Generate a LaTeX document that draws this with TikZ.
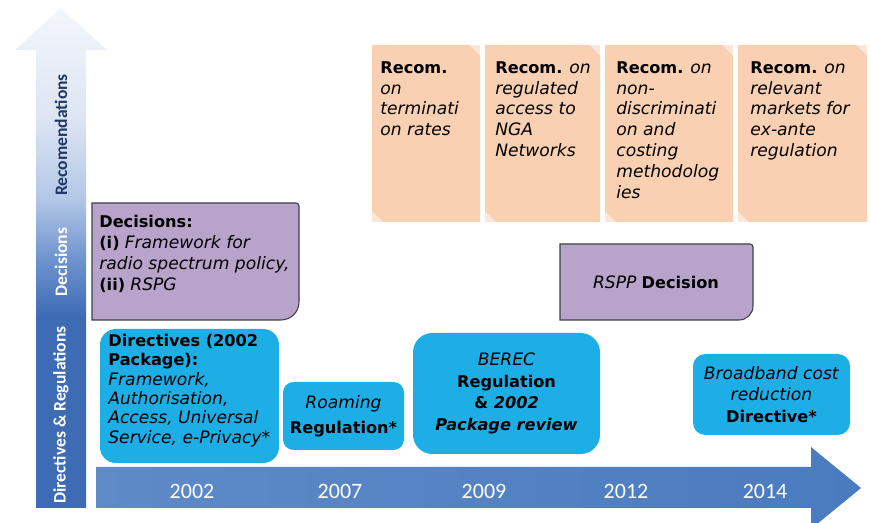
\documentclass[tikz,border=0pt]{standalone}
\usepackage{fontspec}
\setmainfont{DejaVu Sans}[ItalicFeatures={Scale=1.06}]
\newfontfamily\calibri{Carlito}
\usetikzlibrary{positioning}

\definecolor{recomfill}{HTML}{F9D1B2}
\definecolor{decfill}{HTML}{B8A3CB}
\definecolor{decline}{HTML}{3F3F46}
\definecolor{regfill}{HTML}{1EAEE6}
\definecolor{timeleft}{HTML}{5E8AC7}
\definecolor{timeright}{HTML}{4A7BBF}
\definecolor{navy}{HTML}{1F3864}
\definecolor{axisdark}{HTML}{3D6BB4}
\definecolor{axismid}{HTML}{7094CF}
\definecolor{axislight}{HTML}{B3C7E7}
\definecolor{axispale}{HTML}{DDE5F3}
\definecolor{axistop}{HTML}{F3F6FB}

% fade of the rising arrow, dark at the foot and pale at the head
\pgfdeclareverticalshading{risefade}{100bp}{color(0bp)=(axisdark); color(25bp)=(axisdark);
  color(44bp)=(axisdark); color(50bp)=(axismid); color(56bp)=(axislight);
  color(64bp)=(axispale); color(75bp)=(axistop); color(100bp)=(axistop)}

\tikzset{
  boxtext/.style={font=\fontsize{9.2}{11.9}\selectfont, text=black, inner sep=0pt, align=left},
  regbox/.style={fill=regfill, rounded corners=7pt, inner sep=0pt, align=center,
    font=\fontsize{9.2}{12.2}\selectfont},
  yearlabel/.style={text=white, font=\calibri\fontsize{12.5}{14}\selectfont},
  axislabel/.style={rotate=90, text=white, font=\calibri\bfseries\fontsize{10}{12}\selectfont},
  decpanel/.style={fill=decfill, draw=decline, line width=0.6pt}
}

\begin{document}
\begin{tikzpicture}[x=0.02cm,y=0.02cm]
\def\px{0.02cm}
\useasboundingbox (0,0) rectangle (871,523);

% Rising arrow with the three levels
\shade[shading=risefade] (36,15) -- (36,473) -- (15,473) -- (61,515) -- (107,473)
  -- (86,473) -- (86,15) -- cycle;
\node[axislabel, text=navy] (lab-rec) at (61,388) {Recomendations};
\node[axislabel] (lab-dec) at (61,261) {Decisions};
\node[axislabel] (lab-dir) at (61,108) {Directives \& Regulations};

% Time line
\shade[left color=timeleft, right color=timeright] (96,15) -- (96,56) -- (811,56)
  -- (811,76) -- (861,35) -- (811,-6) -- (811,15) -- cycle;
\foreach \yr/\x in {2002/192, 2007/340, 2009/484, 2012/626, 2014/765} {
  \node[yearlabel] (y\yr) at (\x,32) {\yr};
}

% Recommendation sheets, snipped corners over a lighter sheet
\foreach \xa/\xb in {372/480, 485/600, 605/733, 738/867} {
  \fill[recomfill!55!white] (\xa,301) rectangle (\xb,478);
  \fill[recomfill] (\xa,312) -- (\xa,478) -- (\xb-11,478) -- (\xb,467) -- (\xb,301)
    -- (\xa+11,301) -- cycle;
}
\node[boxtext, anchor=north west] (recom-term) at (380,462)
  {\textbf{Recom.}\\ \textit{on}\\ \textit{terminati}\\ \textit{on rates}};
\node[boxtext, anchor=north west] (recom-nga) at (495,462)
  {\textbf{Recom.} \textit{on}\\ \textit{regulated}\\ \textit{access to}\\ \textit{NGA}\\ \textit{Networks}};
\node[boxtext, anchor=north west] (recom-cost) at (616,462)
  {\textbf{Recom.} \textit{on}\\ \textit{non-}\\ \textit{discriminati}\\ \textit{on and}\\ \textit{costing}\\ \textit{methodolog}\\ \textit{ies}};
\node[boxtext, anchor=north west] (recom-markets) at (750,462)
  {\textbf{Recom.} \textit{on}\\ \textit{relevant}\\ \textit{markets for}\\ \textit{ex-ante}\\ \textit{regulation}};

% Decisions
\draw[decpanel] (92,203) -- (92,320) -- (296,320) arc[start angle=90, end angle=0, radius=3]
  -- (299,221) arc[start angle=0, end angle=-90, radius=18] -- cycle;
\node[boxtext, anchor=north west] (dec-spectrum) at (99,308)
  {\textbf{Decisions:}\\ \textbf{(i)} \textit{Framework for}\\ \textit{radio spectrum policy,}\\ \textbf{(ii)} \textit{RSPG}};
\draw[decpanel] (560,203) -- (560,279) -- (750,279) arc[start angle=90, end angle=0, radius=3]
  -- (753,217) arc[start angle=0, end angle=-90, radius=14] -- cycle;
\node[boxtext, align=center] (rspp) at (656,241) {\textit{RSPP} \textbf{Decision}};

% Directives and regulations
\node[regbox, rounded corners=9pt, minimum width={179*\px}, minimum height={134*\px}] (dir-2002) at (189.5,127) {};
\node[boxtext, font=\fontsize{9.2}{11}\selectfont, anchor=north west] (dir-2002-text) at (108,189)
  {\textbf{Directives (2002}\\ \textbf{Package):}\\ \textit{Framework,}\\ \textit{Authorisation,}\\ \textit{Access, Universal}\\ \textit{Service, e-Privacy*}};
\node[regbox, rounded corners=6pt, minimum width={121*\px}, minimum height={68*\px},
  font=\fontsize{9.2}{14}\selectfont] (roaming) at (343.5,107)
  {\textit{Roaming}\\ \textbf{Regulation*}};
\node[regbox, rounded corners=11pt, minimum width={187*\px}, minimum height={121*\px}] (berec) at (506.5,129.5)
  {\textit{BEREC}\\ \textbf{Regulation}\\ \textbf{\& \textit{2002}}\\ \textbf{\textit{Package review}}};
\node[regbox, minimum width={157*\px}, minimum height={81*\px}] (broadband) at (771.5,128.5)
  {\textit{Broadband cost}\\ \textit{reduction}\\ \textbf{Directive*}};

\end{tikzpicture}
\end{document}
